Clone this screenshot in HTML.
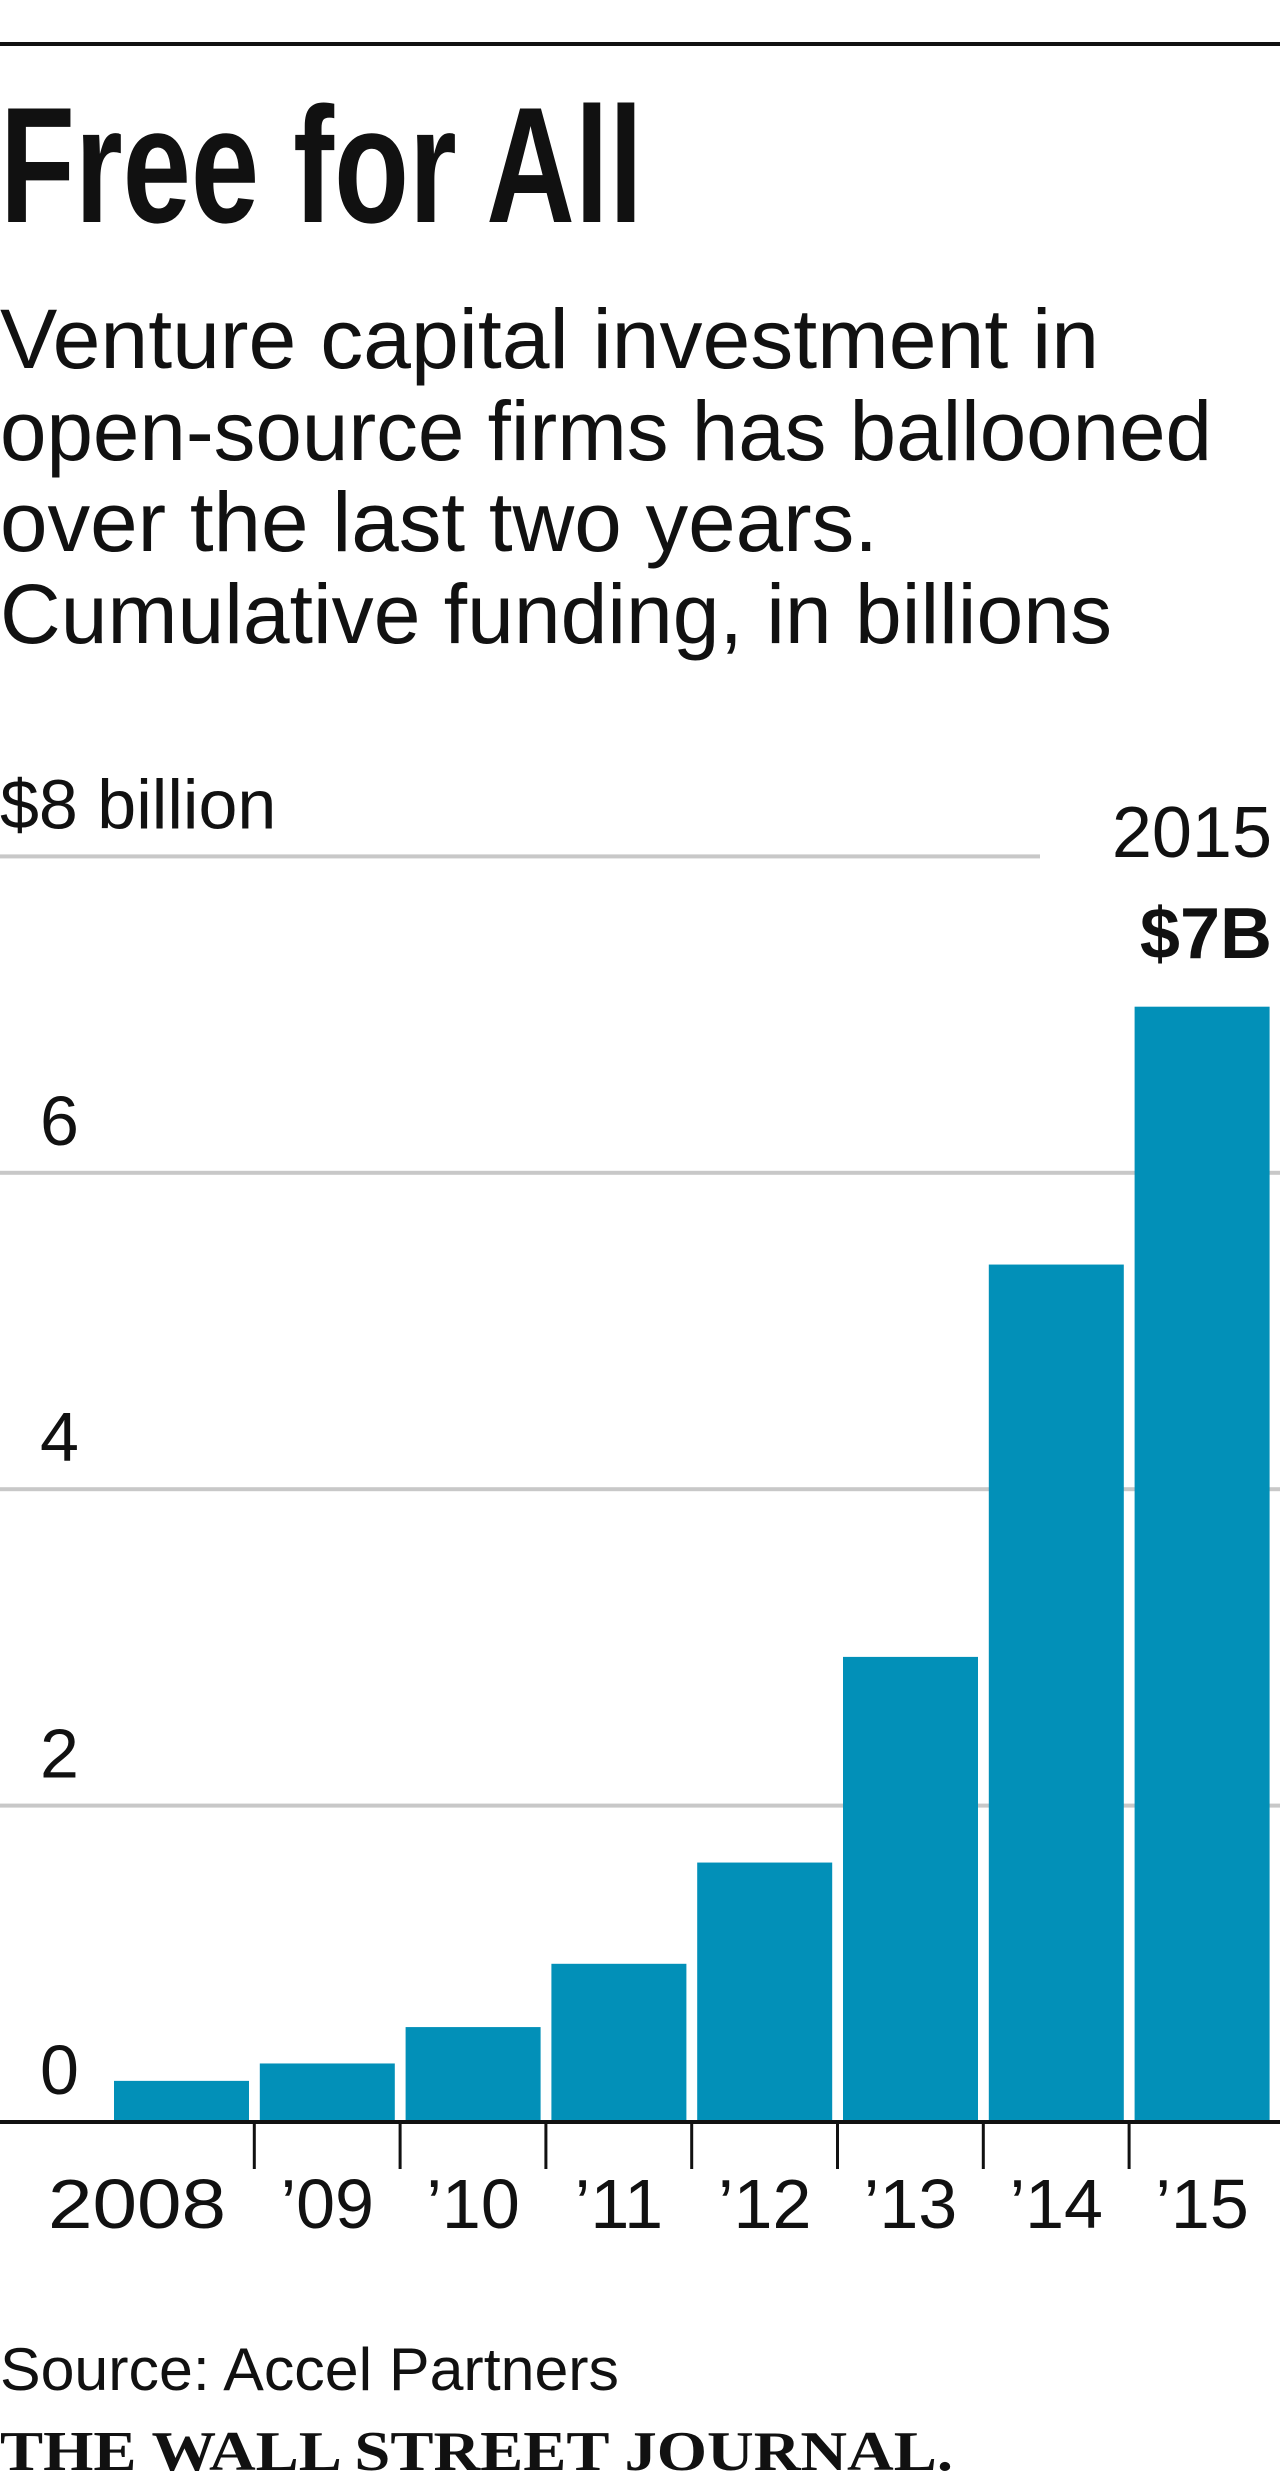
<!DOCTYPE html>
<html><head><meta charset="utf-8">
<style>
html,body{margin:0;padding:0;background:#fff;}
svg{display:block;}
text{font-family:"Liberation Sans",sans-serif;fill:#111;}
</style></head>
<body>
<svg id="chart" width="1280" height="2482" viewBox="0 0 1280 2482" xmlns="http://www.w3.org/2000/svg">
  <rect x="0" y="42" width="1280" height="4" fill="#111"/>
  <text x="0" y="222" font-size="165" font-weight="bold" textLength="643" lengthAdjust="spacingAndGlyphs">Free for All</text>
  <g font-size="84">
    <text x="0" y="368" textLength="1099" lengthAdjust="spacingAndGlyphs">Venture capital investment in</text>
    <text x="0" y="460" textLength="1212" lengthAdjust="spacingAndGlyphs">open-source firms has ballooned</text>
    <text x="0" y="551" textLength="878" lengthAdjust="spacingAndGlyphs">over the last two years.</text>
    <text x="0" y="643" textLength="1112" lengthAdjust="spacingAndGlyphs">Cumulative funding, in billions</text>
  </g>
  <g id="grid"></g>
  <g id="bars"></g>
  <g id="axis"></g>
  <text x="1272" y="857" font-size="72" text-anchor="end">2015</text>
  <text x="1272" y="958" font-size="72" font-weight="bold" text-anchor="end">$7B</text>
  <text x="0" y="2390" font-size="60" textLength="619" lengthAdjust="spacingAndGlyphs">Source: Accel Partners</text>
  <text x="0" y="2470" font-size="56" font-weight="bold" textLength="953" lengthAdjust="spacingAndGlyphs" style="font-family:'Liberation Serif',serif">THE WALL STREET JOURNAL.</text>
</svg>
<script>
const categories = ["2008","’09","’10","’11","’12","’13","’14","’15"];
const values = [0.26, 0.37, 0.6, 1.0, 1.64, 2.94, 5.42, 7.05];
const yTicks = [0, 2, 4, 6, 8];
const yTickLabels = ["0","2","4","6","$8 billion"];

const NS = "http://www.w3.org/2000/svg";
const y0 = 2122, unit = 158.2;
function yScale(v){ return y0 - v*unit; }
const slotStart = 114, slot = 145.8, barW = 135;
function xScale(i){ return slotStart + i*slot; }

const grid = document.getElementById('grid');
yTicks.forEach((t,i)=>{
  if (t !== 0) {
    const l = document.createElementNS(NS,'rect');
    l.setAttribute('x',0); l.setAttribute('y',yScale(t)-2);
    l.setAttribute('width', t===8 ? 1040 : 1280); l.setAttribute('height',4);
    l.setAttribute('fill','#c8c8c8');
    
    
    grid.appendChild(l);
  }
  const tx = document.createElementNS(NS,'text');
  tx.setAttribute('x', t===8 ? 0 : 40);
  tx.setAttribute('y', yScale(t)-28);
  tx.setAttribute('font-size', 70);
  tx.textContent = yTickLabels[i];
  
  
  grid.appendChild(tx);
});

const bars = document.getElementById('bars');
values.forEach((v,i)=>{
  const r = document.createElementNS(NS,'rect');
  r.setAttribute('x', xScale(i)); r.setAttribute('y', yScale(v));
  r.setAttribute('width', barW); r.setAttribute('height', y0 - yScale(v));
  r.setAttribute('fill','#0290b8');
  
  
  bars.appendChild(r);
});

const axis = document.getElementById('axis');
const base = document.createElementNS(NS,'rect');
base.setAttribute('x',0); base.setAttribute('y',y0-2); base.setAttribute('width',1280); base.setAttribute('height',4); base.setAttribute('fill','#111');


axis.appendChild(base);
categories.forEach((c,i)=>{
  if (i>0) {
    const tk = document.createElementNS(NS,'rect');
    tk.setAttribute('x', xScale(i)-7); tk.setAttribute('y', y0);
    tk.setAttribute('width',3); tk.setAttribute('height',47); tk.setAttribute('fill','#111');
    
    
    axis.appendChild(tk);
  }
  const tx = document.createElementNS(NS,'text');
  if (i===0) {
    tx.setAttribute('x', 48);
    tx.setAttribute('textLength', 178);
    tx.setAttribute('lengthAdjust', 'spacingAndGlyphs');
  } else { tx.setAttribute('x', xScale(i)+barW/2); tx.setAttribute('text-anchor','middle'); }
  tx.setAttribute('y', 2228);
  tx.setAttribute('font-size', 70);
  tx.textContent = c;
  
  
  axis.appendChild(tx);
});
</script>
</body></html>
